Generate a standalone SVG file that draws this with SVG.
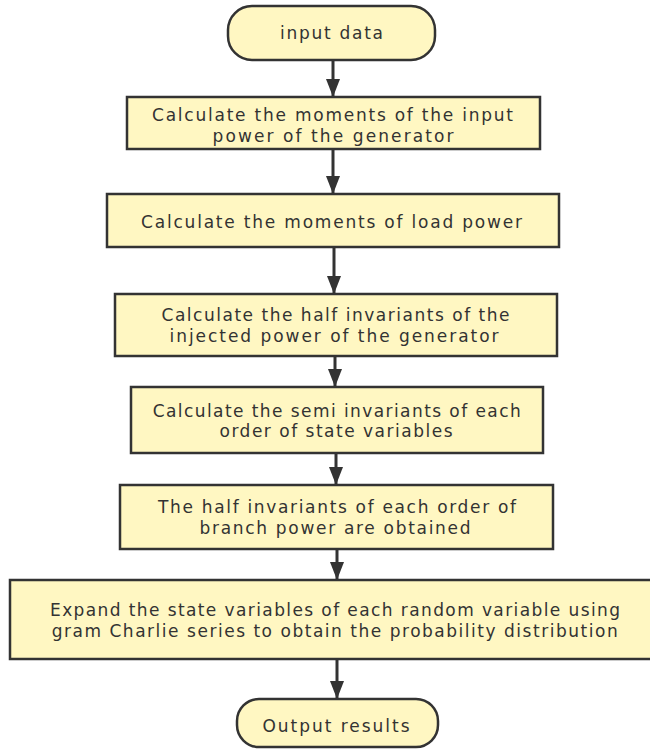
<svg xmlns="http://www.w3.org/2000/svg" width="650" height="749" viewBox="0 0 650 749">
<defs>
<style>
.box{fill:#FFF7C2;stroke:#333;stroke-width:2.5}
.t{font-family:"DejaVu Sans","Verdana",sans-serif;font-size:17px;fill:#333;text-anchor:middle}
.c{stroke:#333;stroke-width:3;fill:none;marker-end:url(#ah)}
</style>
<marker id="ah" markerUnits="userSpaceOnUse" markerWidth="18" markerHeight="14" refX="18" refY="7" orient="auto" viewBox="0 0 18 14">
<path d="M0,0 L18,7 L0,14 Z" fill="#333"/>
</marker>
</defs>
<g id="connectors">
<path class="c" d="M333,60 V97"/>
<path class="c" d="M333,149 V194"/>
<path class="c" d="M334,247 V294"/>
<path class="c" d="M335,356 V387"/>
<path class="c" d="M336,453 V485"/>
<path class="c" d="M337,549 V580"/>
<path class="c" d="M337,659 V699"/>
</g>
<g id="n0"><rect class="box" x="228" y="6" width="207" height="54" rx="24"/><text class="t" x="331.5" y="39" textLength="103" lengthAdjust="spacing">input data</text></g>
<g id="n1"><rect class="box" x="127" y="97" width="413" height="52"/><text class="t" x="332.5" y="121" textLength="361" lengthAdjust="spacing">Calculate the moments of the input</text><text class="t" x="333" y="141.5" textLength="241" lengthAdjust="spacing">power of the generator</text></g>
<g id="n2"><rect class="box" x="107" y="194" width="452" height="53"/><text class="t" x="331.5" y="228" textLength="381" lengthAdjust="spacing">Calculate the moments of load power</text></g>
<g id="n3"><rect class="box" x="115" y="294" width="442" height="62"/><text class="t" x="335.5" y="320.5" textLength="348" lengthAdjust="spacing">Calculate the half invariants of the</text><text class="t" x="334" y="341.5" textLength="329" lengthAdjust="spacing">injected power of the generator</text></g>
<g id="n4"><rect class="box" x="131" y="387" width="412" height="66"/><text class="t" x="336.7" y="416.7" textLength="368" lengthAdjust="spacing">Calculate the semi invariants of each</text><text class="t" x="336" y="437.3" textLength="233" lengthAdjust="spacing">order of state variables</text></g>
<g id="n5"><rect class="box" x="120" y="485" width="433" height="64"/><text class="t" x="337" y="513.3" textLength="358" lengthAdjust="spacing">The half invariants of each order of</text><text class="t" x="335" y="534" textLength="271" lengthAdjust="spacing">branch power are obtained</text></g>
<g id="n6"><rect class="box" x="10" y="580" width="645" height="79"/><text class="t" x="335" y="616" textLength="570" lengthAdjust="spacing">Expand the state variables of each random variable using</text><text class="t" x="334.7" y="636.7" textLength="566" lengthAdjust="spacing">gram Charlie series to obtain the probability distribution</text></g>
<g id="n7"><rect class="box" x="237" y="699" width="201" height="48" rx="22"/><text class="t" x="336" y="731.5" textLength="147" lengthAdjust="spacing">Output results</text></g>
</svg>
